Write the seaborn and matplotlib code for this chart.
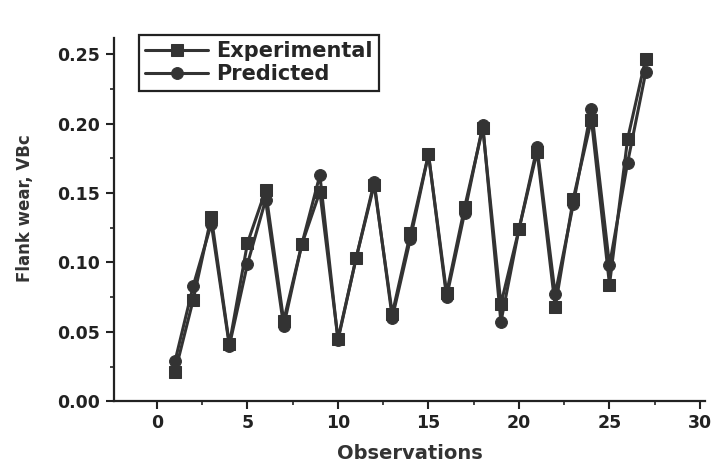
import pandas as pd
import seaborn as sns
import matplotlib.pyplot as plt
from matplotlib.ticker import MultipleLocator

obs = list(range(1, 28))
experimental = [0.021, 0.073, 0.133, 0.041, 0.114, 0.152, 0.058, 0.113, 0.151, 0.045,
                0.103, 0.156, 0.063, 0.121, 0.178, 0.078, 0.140, 0.197, 0.070, 0.124,
                0.180, 0.068, 0.146, 0.203, 0.084, 0.189, 0.247]
predicted = [0.029, 0.083, 0.128, 0.040, 0.099, 0.145, 0.054, 0.113, 0.163, 0.044,
             0.103, 0.158, 0.060, 0.117, 0.178, 0.075, 0.136, 0.199, 0.057, 0.124,
             0.183, 0.077, 0.142, 0.211, 0.098, 0.172, 0.237]


def main():
    sns.set_style('ticks')
    plt.rcParams['font.family'] = ['DejaVu Sans']
    plt.rcParams['font.weight'] = 'bold'

    data = pd.DataFrame({'obs': obs + obs,
                         'wear': experimental + predicted,
                         'kind': ['Experimental'] * len(obs) + ['Predicted'] * len(obs)})

    fig = plt.figure(figsize=(7.14, 4.72), dpi=100)
    ax = fig.add_axes([0.159, 0.150, 0.829, 0.77])
    sns.lineplot(data=data, x='obs', y='wear', hue='kind', style='kind',
                 palette=['#333333', '#333333'], markers=['s', 'o'], dashes=False,
                 markersize=8.5, linewidth=2.2, markeredgecolor='#333333', ax=ax)

    ax.set_xlim(-2.4, 30.3)
    ax.set_ylim(0, 0.262)
    ax.xaxis.set_major_locator(MultipleLocator(5))
    ax.xaxis.set_minor_locator(MultipleLocator(2.5))
    ax.yaxis.set_major_locator(MultipleLocator(0.05))
    ax.yaxis.set_minor_locator(MultipleLocator(0.025))
    ax.yaxis.set_major_formatter('{x:.2f}')
    ax.tick_params(which='major', length=6, width=1.5, labelsize=12.5, colors='#222222')
    ax.tick_params(which='minor', length=3, width=1.2, colors='#222222')
    sns.despine(ax=ax)
    for s in ['left', 'bottom']:
        ax.spines[s].set_linewidth(1.6)
        ax.spines[s].set_color('#222222')

    ax.set_xlabel('Observations', fontdict={'size': 14, 'weight': 'bold'}, color='#333333', labelpad=8)
    ax.set_ylabel('Flank wear, VBc', fontdict={'size': 12, 'weight': 'bold'}, color='#333333', labelpad=14)
    ax.yaxis.set_label_coords(-0.135, 0.53)

    leg = ax.legend(loc='upper left', bbox_to_anchor=(139 / 714, 1 - 35 / 472),
                    bbox_transform=fig.transFigure, borderaxespad=0, fontsize=15,
                    frameon=True, fancybox=False, handlelength=3, borderpad=0.3,
                    labelspacing=0.15, handletextpad=0.4)
    leg.get_frame().set_edgecolor('#222222')
    leg.get_frame().set_linewidth(1.6)
    leg.get_frame().set_alpha(1)

    fig.savefig('out.png', dpi=100)
    plt.close(fig)


if __name__ == '__main__':
    main()
